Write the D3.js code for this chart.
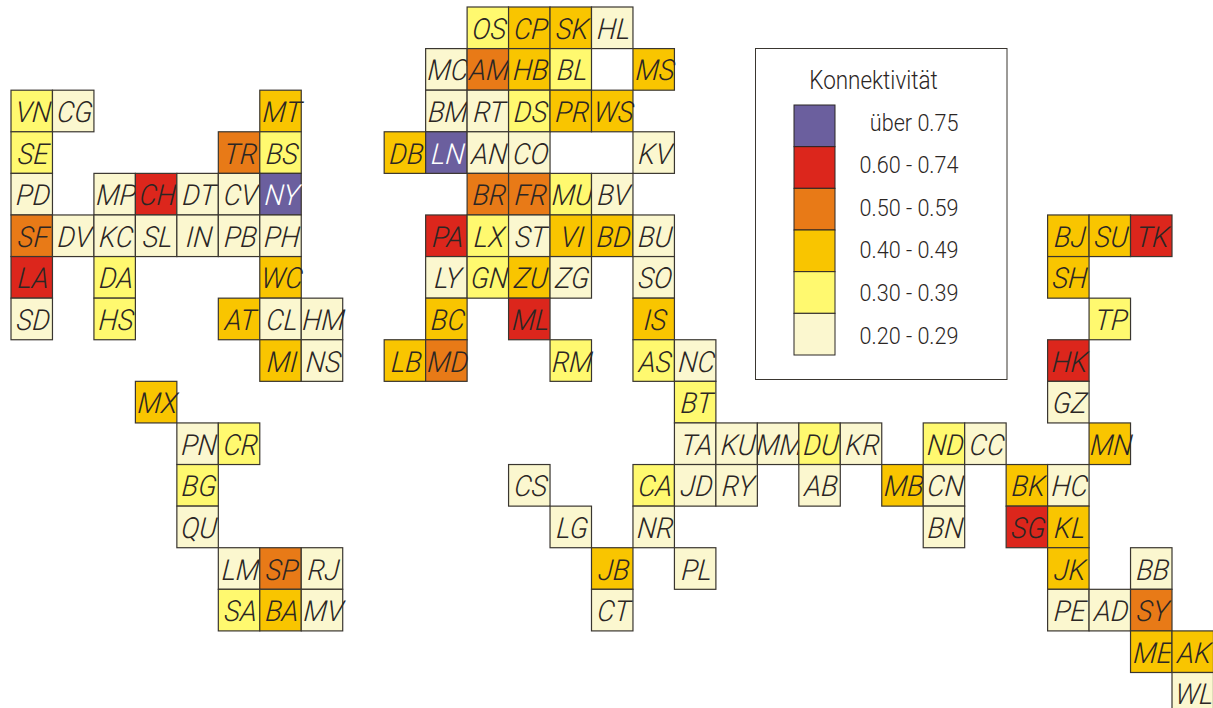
<!DOCTYPE html>
<html>
<head>
<meta charset="utf-8">
<script src="https://cdn.jsdelivr.net/npm/d3@7"></script>
<style>
  html, body { margin: 0; padding: 0; background: #fff; }
  svg { display: block; }
  text { font-family: Roboto, "Liberation Sans", sans-serif; fill: #2b2624; }
</style>
</head>
<body>
<div id="chart"></div>
<script>
// Stadtkürzel, Spalte und Zeile im Raster, Klasse (0 = 0.20-0.29 ... 5 = über 0.75)
const cities = [
  'VN','CG','MT','SE','TR','BS','PD','MP','CH','DT','CV','NY',
  'SF','DV','KC','SL','IN','PB','PH','LA','DA','WC','SD','HS','AT','CL','HM','MI','NS',
  'MX','PN','CR','BG','QU','LM','SP','RJ','SA','BA','MV',
  'OS','CP','SK','HL','MC','AM','HB','BL','MS','BM','RT','DS','PR','WS',
  'DB','LN','AN','CO','KV','BR','FR','MU','BV','PA','LX','ST','VI','BD','BU',
  'LY','GN','ZU','ZG','SO','BC','ML','IS','LB','MD','RM','AS','NC','BT',
  'TA','KU','MM','DU','KR','ND','CC','MN','CS','CA','JD','RY','AB','MB','CN','BK','HC',
  'LG','NR','BN','SG','KL','JB','PL','JK','BB','CT','PE','AD','SY','ME','AK','WL',
  'BJ','SU','TK','SH','TP','HK','GZ'
];
const gridCols = [
  0,1,6,0,5,6,0,2,3,4,5,6,
  0,1,2,3,4,5,6,0,2,6,0,2,5,6,7,6,7,
  3,4,5,4,4,5,6,7,5,6,7,
  11,12,13,14,10,11,12,13,15,10,11,12,13,14,
  9,10,11,12,15,11,12,13,14,10,11,12,13,14,15,
  10,11,12,13,15,10,12,15,9,10,13,15,16,16,
  16,17,18,19,20,22,23,26,12,15,16,17,19,21,22,24,25,
  13,15,22,24,25,14,16,25,27,14,25,26,27,27,28,28,
  25,26,27,25,26,25,25
];
const gridRows = [
  2,2,2,3,3,3,4,4,4,4,4,4,
  5,5,5,5,5,5,5,6,6,6,7,7,7,7,7,8,8,
  9,10,10,11,12,13,13,13,14,14,14,
  0,0,0,0,1,1,1,1,1,2,2,2,2,2,
  3,3,3,3,3,4,4,4,4,5,5,5,5,5,5,
  6,6,6,6,6,7,7,7,8,8,8,8,8,9,
  10,10,10,10,10,10,10,10,11,11,11,11,11,11,11,11,11,
  12,12,12,12,12,13,13,13,13,14,14,14,14,15,15,16,
  5,5,5,6,7,8,9
];
const classes = [
  1,0,2,1,3,1,0,0,4,0,0,5,
  3,0,0,0,0,0,0,4,1,2,0,1,2,0,0,2,0,
  2,0,1,1,0,0,3,0,1,2,0,
  1,2,2,0,0,3,2,1,2,0,0,1,2,2,
  2,5,0,0,0,3,3,1,0,4,1,0,2,2,0,
  0,1,2,0,0,2,4,2,2,3,1,1,0,1,
  0,0,0,1,0,1,0,2,0,1,0,0,0,2,0,2,0,
  0,0,0,4,2,2,0,2,0,0,0,0,3,2,2,0,
  2,2,4,2,1,4,0
];
const legendTitle = 'Konnektivität';
const legendLabels = ['über 0.75','0.60 - 0.74','0.50 - 0.59','0.40 - 0.49','0.30 - 0.39','0.20 - 0.29'];
const legendClasses = [5,4,3,2,1,0];
const classColors = ['#fbf7cf','#fff96f','#f9c500','#e87a17','#dc261c','#6b5f9e'];

const width = 1213, height = 708;

const svg = d3.select('#chart').append('svg')
  .attr('width', width)
  .attr('height', height);

const color = d3.scaleOrdinal().domain(d3.range(6)).range(classColors);

// Rasterskalen
const x = d3.scaleLinear().domain([0, 28]).range([11, 1172]);
const y = d3.scaleLinear().domain([0, 16]).range([7, 672.5]);
const cellW = x(1) - x(0);
const cellH = y(1) - y(0);

const tiles = cities.map((c, i) => ({ city: c, col: gridCols[i], row: gridRows[i], cls: classes[i] }));

const cell = svg.selectAll('.cell')
  .data(tiles)
  .enter()
  .append('g')
  .attr('class', 'cell')
  .attr('transform', d => `translate(${x(d.col)}, ${y(d.row)})`);

cell.append('rect')
  .attr('width', cellW)
  .attr('height', cellH)
  .attr('fill', d => color(d.cls))
  .attr('stroke', '#3a3630')
  .attr('stroke-width', 1.2);

// Kursiv wie im Original: etwas schmaler und stärker geneigt
cell.append('text')
  .attr('transform', `translate(${cellW / 2 + 1}, ${cellH / 2 + 11}) scale(0.95, 1) skewX(-5)`)
  .attr('text-anchor', 'middle')
  .style('font-size', '29px')
  .style('font-style', 'italic')
  .style('font-weight', 300)
  .style('fill', d => d.cls === 5 ? '#fff' : null)
  .text(d => d.city);

// Legende
const legend = svg.append('g');

legend.append('rect')
  .attr('x', 755.5)
  .attr('y', 48.5)
  .attr('width', 251.5)
  .attr('height', 331)
  .attr('fill', '#fff')
  .attr('stroke', '#3a3630')
  .attr('stroke-width', 1);

legend.append('text')
  .attr('transform', 'translate(873.5, 89) scale(0.9, 1)')
  .attr('text-anchor', 'middle')
  .style('font-size', '25px')
  .style('font-weight', 300)
  .text(legendTitle);

const legendY = d3.scaleBand().domain(legendLabels).range([105, 355]);
const labelY = d3.scalePoint().domain(legendLabels).range([122, 335]);

legend.selectAll('.legend-swatch')
  .data(legendLabels)
  .enter()
  .append('rect')
  .attr('class', 'legend-swatch')
  .attr('x', 794)
  .attr('y', d => legendY(d))
  .attr('width', 41)
  .attr('height', legendY.bandwidth())
  .attr('fill', (d, i) => color(legendClasses[i]))
  .attr('stroke', '#2b2624')
  .attr('stroke-width', 1);

legend.selectAll('.legend-label')
  .data(legendLabels)
  .enter()
  .append('text')
  .attr('class', 'legend-label')
  .attr('transform', d => `translate(958.5, ${labelY(d) + 8.5}) scale(0.9, 1)`)
  .attr('text-anchor', 'end')
  .style('font-size', '24px')
  .style('font-weight', 300)
  .text(d => d);
</script>
</body>
</html>
